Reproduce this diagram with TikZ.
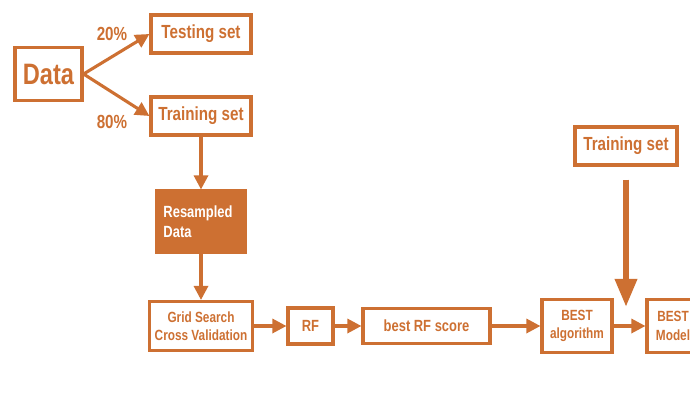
\documentclass[tikz,border=0pt]{standalone}
\usepackage{fontspec}
\newfontfamily\labelfont{Liberation Sans}[FakeStretch=0.8]
\usetikzlibrary{arrows.meta}
\definecolor{myorange}{RGB}{205,112,50}

\begin{document}
\begin{tikzpicture}[x=0.025cm,y=-0.025cm,
    box/.style={draw=myorange,line width=2.2pt,text=myorange,inner sep=0pt,align=center},
    filledbox/.style={box,fill=myorange,text=white,align=left},
    hugetext/.style={font=\labelfont\bfseries\fontsize{21}{24}\selectfont},
    bigtext/.style={font=\labelfont\bfseries\fontsize{13.5}{16}\selectfont},
    midtext/.style={font=\labelfont\bfseries\fontsize{11.5}{14.5}\selectfont},
    smalltext/.style={font=\labelfont\bfseries\fontsize{10.5}{13}\selectfont},
    pct/.style={bigtext,text=myorange,inner sep=0pt},
    flow/.style={draw=myorange,line width=2.2pt,-{Triangle[length=10pt,width=10pt]}},
    bigflow/.style={draw=myorange,line width=4.5pt,-{Triangle[length=20pt,width=15pt]}}]
  \clip (0,0) rectangle (690,408);
  % split of the data
  \node[box,hugetext,minimum width=1.675cm,minimum height=1.325cm] (data) at (48.5,74) {Data};
  \node[box,bigtext,minimum width=2.5cm,minimum height=0.95cm] (test) at (201,34) {Testing set};
  \node[box,bigtext,minimum width=2.5cm,minimum height=0.95cm] (train) at (201,116) {Training set};
  \node[pct] (p20) at (112,34) {20\%};
  \node[pct] (p80) at (112,122) {80\%};
  \draw[flow] (data.east) -- (test.west);
  \draw[flow] (data.east) -- (train.west);
  % tuning chain
  \node[filledbox,midtext,minimum width=2.225cm,minimum height=1.525cm,text width=1.875cm] (resampled) at (201,221.5) {Resampled\\Data};
  \node[box,smalltext,minimum width=2.575cm,minimum height=1.225cm] (grid) at (201,326) {Grid Search\\Cross Validation};
  \node[box,midtext,minimum width=1.125cm,minimum height=0.9cm] (rf) at (310.5,326) {RF};
  \node[box,midtext,minimum width=3.175cm,minimum height=0.875cm] (score) at (426.5,326) {best RF score};
  \node[box,smalltext,minimum width=1.75cm,minimum height=1.325cm] (bestalg) at (577,326) {BEST\\algorithm};
  \node[box,smalltext,minimum width=1.3cm,minimum height=1.325cm] (bestmodel) at (673,326) {BEST\\Model};
  \node[box,bigtext,minimum width=2.55cm,minimum height=0.95cm] (train2) at (626,146) {Training set};
  \coordinate (tip) at (626,307);
  \draw[flow] (train) -- (resampled);
  \draw[flow] (resampled) -- (grid);
  \draw[flow] (grid) -- (rf);
  \draw[flow] (rf) -- (score);
  \draw[flow] (score) -- (bestalg);
  \draw[flow] (bestalg) -- (bestmodel);
  \draw[bigflow,shorten <=0.325cm] (train2.south) -- (tip);
\end{tikzpicture}
\end{document}
